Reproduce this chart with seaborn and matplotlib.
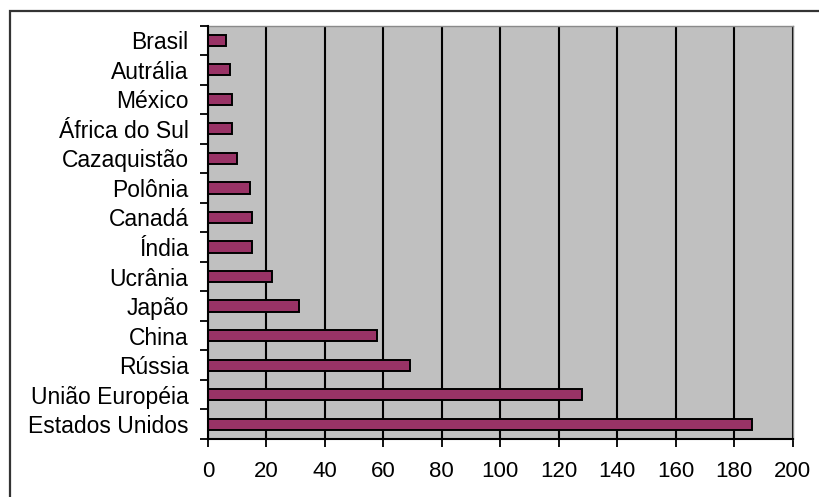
import numpy as np
import matplotlib
matplotlib.use("Agg")
import matplotlib.pyplot as plt
from matplotlib.patches import Rectangle
import seaborn as sns

countries = ["Brasil", "Autrália", "México", "África do Sul", "Cazaquistão",
             "Polônia", "Canadá", "Índia", "Ucrânia", "Japão", "China",
             "Rússia", "União Européia", "Estados Unidos"]
values = [6.3, 7.4, 8.1, 8.1, 10.0, 14.4, 15.0, 15.0, 21.8, 31.2, 57.9,
          69.0, 128.0, 186.3]
xticks = [0, 20, 40, 60, 80, 100, 120, 140, 160, 180, 200]

sns.set_theme(style="white")
plt.rcParams["font.family"] = ["Liberation Sans", "DejaVu Sans"]

W, H = 819, 497
fig = plt.figure(figsize=(W / 100, H / 100), dpi=100)
fig.patch.set_facecolor("white")
ax = fig.add_axes([208 / W, 1 - 439 / H, (792.5 - 208) / W, (439 - 25.5) / H])
ax.set_facecolor("#C0C0C0")

sns.barplot(x=values, y=countries, orient="h", color="#993366", saturation=1,
            width=0.38, edgecolor="black", linewidth=1.4, ax=ax, zorder=3)

ax.set_xlim(0, 200)
ax.set_ylim(13.5, -0.5)
ax.set_xticks(xticks)
ax.set_xticklabels([str(t) for t in xticks], fontsize=16, color="black")
ax.set_yticks(np.arange(-0.5, 14, 1))
ax.set_yticklabels([])
ax.set_yticks(np.arange(14), minor=True)
ax.set_yticklabels(countries, minor=True, fontsize=16.5, color="black")
ax.tick_params(axis="y", which="minor", length=0, pad=14)
ax.tick_params(axis="y", which="major", length=6, width=1.3, color="black", direction="out", left=True)
ax.tick_params(axis="x", which="major", length=6, width=1.3, color="black", direction="out", pad=10, bottom=True)
ax.set_xlabel("")
ax.set_ylabel("")

ax.grid(axis="x", color="black", linewidth=1.5, zorder=1)
ax.grid(axis="y", visible=False)
ax.set_axisbelow(True)

for side in ["left", "bottom"]:
    ax.spines[side].set_color("black")
    ax.spines[side].set_linewidth(1.5)
    ax.spines[side].set_zorder(4)
for side in ["top", "right"]:
    ax.spines[side].set_visible(True)
    ax.spines[side].set_color("#8a8a8a")
    ax.spines[side].set_linewidth(1.0)

fig.add_artist(Rectangle((10 / W, -0.1), 2.0, 1 - 11 / H + 0.1,
                         transform=fig.transFigure, fill=False,
                         edgecolor="#333333", linewidth=1.6))

fig.savefig("out.png", dpi=100)
